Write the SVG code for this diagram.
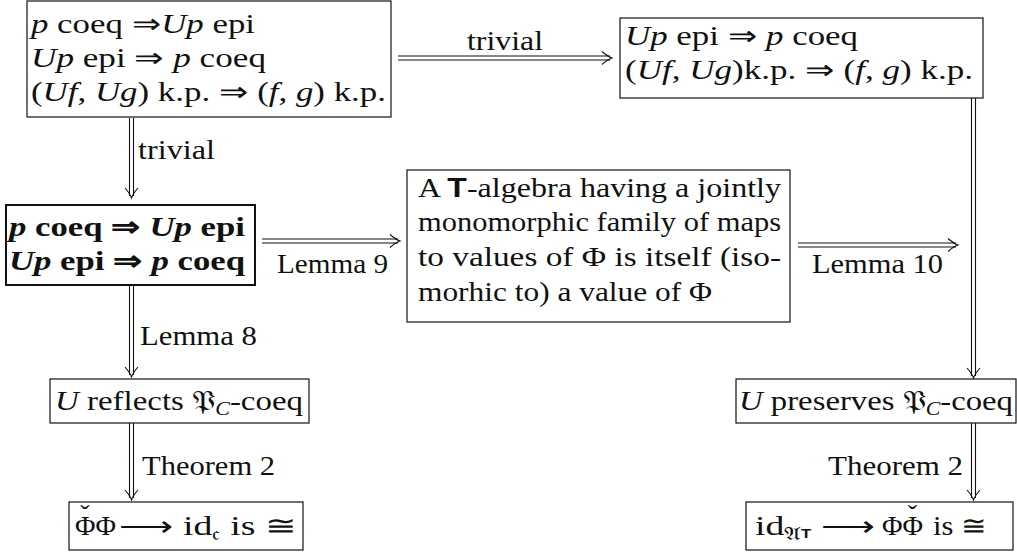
<svg xmlns="http://www.w3.org/2000/svg" width="1017" height="553" viewBox="0 0 1017 553">
<style>
.t{font-family:"Liberation Serif","Times New Roman",serif;font-size:27px;fill:#111}
.b{font-weight:bold}
.i{font-style:italic}
.sf{font-family:"Liberation Sans",Arial,sans-serif;font-weight:bold;font-style:normal}
.fk{font-family:"DejaVu Serif","DejaVu Sans","Noto Sans",serif;font-style:normal}
.ph{font-family:"Liberation Serif","Times New Roman",serif;font-size:28px;fill:#111}
.sub{font-size:18px}
.box{fill:#fff;stroke:#111;stroke-width:1.2}
.bb{stroke-width:2}
.ln{fill:none;stroke:#111;stroke-width:1.1}
</style>
<defs>
<path id="ah" d="M-10,-6.5 C-6,-3 -3,-1 0,0 C-3,1 -6,3 -10,6.5" fill="none" stroke="#111" stroke-width="1.1"/>
</defs>
<rect width="1017" height="553" fill="#fff"/>

<g id="connectors">
  <path class="ln" d="M398,56 H610 M398,60 H610"/>
  <use href="#ah" transform="translate(612,58)"/>
  <text class="t" x="467" y="50" textLength="76" lengthAdjust="spacingAndGlyphs">trivial</text>
  <path class="ln" d="M129.5,118 V196 M133.5,118 V196"/>
  <use href="#ah" transform="translate(131.5,198) rotate(90)"/>
  <text class="t" x="138" y="159" textLength="77" lengthAdjust="spacingAndGlyphs">trivial</text>
  <path class="ln" d="M262,239 H398 M262,243 H398"/>
  <use href="#ah" transform="translate(400,241)"/>
  <text class="t" x="277" y="273" textLength="111" lengthAdjust="spacingAndGlyphs">Lemma 9</text>
  <path class="ln" d="M798,243 H956 M798,247 H956"/>
  <use href="#ah" transform="translate(958,245)"/>
  <text class="t" x="812" y="273" textLength="131" lengthAdjust="spacingAndGlyphs">Lemma 10</text>
  <path class="ln" d="M971.5,98 V376 M975.5,98 V376"/>
  <use href="#ah" transform="translate(973.5,378) rotate(90)"/>
  <path class="ln" d="M129.5,285 V375 M133.5,285 V375"/>
  <use href="#ah" transform="translate(131.5,377) rotate(90)"/>
  <text class="t" x="140" y="345" textLength="117" lengthAdjust="spacingAndGlyphs">Lemma 8</text>
  <path class="ln" d="M129.5,423 V498 M133.5,423 V498"/>
  <use href="#ah" transform="translate(131.5,500) rotate(90)"/>
  <text class="t" x="142" y="475" textLength="133" lengthAdjust="spacingAndGlyphs">Theorem 2</text>
  <path class="ln" d="M971.5,423 V498 M975.5,423 V498"/>
  <use href="#ah" transform="translate(973.5,500) rotate(90)"/>
  <text class="t" x="828" y="475" textLength="135" lengthAdjust="spacingAndGlyphs">Theorem 2</text>
</g>

<g id="n1">
  <rect class="box" x="27" y="1" width="364" height="116"/>
  <text class="t" x="31" y="33" textLength="224" lengthAdjust="spacingAndGlyphs"><tspan class="i">p</tspan> coeq ⇒<tspan class="i">Up</tspan> epi</text>
  <text class="t" x="31" y="67" textLength="235" lengthAdjust="spacingAndGlyphs"><tspan class="i">Up</tspan> epi ⇒ <tspan class="i">p</tspan> coeq</text>
  <text class="t" x="31" y="101" textLength="355" lengthAdjust="spacingAndGlyphs">(<tspan class="i">Uf</tspan>, <tspan class="i">Ug</tspan>) k.p. ⇒ (<tspan class="i">f</tspan>, <tspan class="i">g</tspan>) k.p.</text>
</g>

<g id="n2">
  <rect class="box" x="620" y="18" width="363" height="80"/>
  <text class="t" x="625" y="45" textLength="233" lengthAdjust="spacingAndGlyphs"><tspan class="i">Up</tspan> epi ⇒ <tspan class="i">p</tspan> coeq</text>
  <text class="t" x="625" y="79" textLength="348" lengthAdjust="spacingAndGlyphs">(<tspan class="i">Uf</tspan>, <tspan class="i">Ug</tspan>)k.p. ⇒ (<tspan class="i">f</tspan>, <tspan class="i">g</tspan>) k.p.</text>
</g>

<g id="n3">
  <rect class="box bb" x="6" y="205" width="249" height="80"/>
  <text class="t b" x="9" y="236" textLength="236" lengthAdjust="spacingAndGlyphs"><tspan class="i">p</tspan> coeq ⇒ <tspan class="i">Up</tspan> epi</text>
  <text class="t b" x="9" y="270" textLength="236" lengthAdjust="spacingAndGlyphs"><tspan class="i">Up</tspan> epi ⇒ <tspan class="i">p</tspan> coeq</text>
</g>

<g id="n4">
  <rect class="box" x="407" y="170" width="383" height="152"/>
  <text class="t" x="418" y="197" textLength="363" lengthAdjust="spacingAndGlyphs">A <tspan class="sf">T</tspan>-algebra having a jointly</text>
  <text class="t" x="418" y="231" textLength="363" lengthAdjust="spacingAndGlyphs">monomorphic family of maps</text>
  <text class="t" x="418" y="266" textLength="363" lengthAdjust="spacingAndGlyphs">to values of Φ is itself (iso-</text>
  <text class="t" x="418" y="301" textLength="294" lengthAdjust="spacingAndGlyphs">morhic to) a value of Φ</text>
</g>

<g id="n5">
  <rect class="box" x="50" y="379" width="259" height="44"/>
  <text class="t" x="55" y="410" textLength="248" lengthAdjust="spacingAndGlyphs"><tspan class="i">U</tspan> reflects <tspan class="fk">𝔓</tspan><tspan class="i sub" dy="5">C</tspan><tspan dy="-5">-coeq</tspan></text>
</g>

<g id="n6">
  <rect class="box" x="736" y="379" width="280" height="44"/>
  <text class="t" x="739" y="410" textLength="274" lengthAdjust="spacingAndGlyphs"><tspan class="i">U</tspan> preserves <tspan class="fk">𝔓</tspan><tspan class="i sub" dy="5">C</tspan><tspan dy="-5">-coeq</tspan></text>
</g>

<g id="n7">
  <rect class="box" x="69" y="502" width="234" height="48"/>
  <text class="ph" x="75" y="535">Φ<tspan dx="-15.3" dy="-11">ˇ</tspan><tspan dx="6" dy="11">Φ</tspan></text>
  <text class="t" x="119" y="535" textLength="178" lengthAdjust="spacingAndGlyphs">⟶ id<tspan class="fk sub" dy="5">𝔠</tspan><tspan dy="-5"> is ≅</tspan></text>
</g>

<g id="n8">
  <rect class="box" x="746" y="502" width="267" height="48"/>
  <text class="t" x="755" y="535" textLength="120" lengthAdjust="spacingAndGlyphs">id<tspan class="fk sub" dy="5">𝔄</tspan><tspan class="sf" dy="-2" font-size="12">T</tspan><tspan dy="-3"> ⟶</tspan></text>
  <text class="ph" x="882" y="535">ΦΦ<tspan dx="-15.3" dy="-11">ˇ</tspan></text>
  <text class="t" x="933" y="535" textLength="54" lengthAdjust="spacingAndGlyphs">is ≅</text>
</g>
</svg>
